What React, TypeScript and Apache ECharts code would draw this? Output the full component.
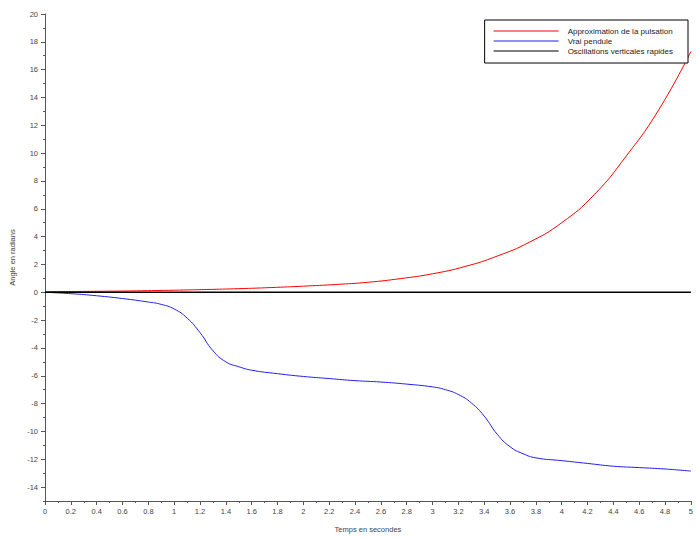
import React, { useEffect, useRef } from "react";
import * as echarts from "echarts";

// Time samples (s) and values
const redTimes = [0, 0.25, 0.5, 0.75, 1, 1.25, 1.5, 1.75, 2, 2.25, 2.5, 2.75, 3, 3.25, 3.5, 3.75, 4, 4.25, 4.5, 4.75, 5];
const redValues = [0.05, 0.06, 0.08, 0.11, 0.15, 0.2, 0.26, 0.34, 0.44, 0.56, 0.72, 0.98, 1.33, 1.85, 2.6, 3.6, 5.0, 7.0, 9.8, 13.1, 17.3];

const blueTimes = [0, 0.2, 0.4, 0.6, 0.8, 0.9, 1.0, 1.1, 1.2, 1.3, 1.4, 1.5, 1.6, 1.8, 2.0, 2.2, 2.4, 2.6, 2.8, 3.0, 3.1, 3.2, 3.3, 3.4, 3.5, 3.6, 3.7, 3.8, 4.0, 4.2, 4.4, 4.6, 4.8, 5.0];
const blueValues = [0, -0.1, -0.25, -0.45, -0.7, -0.87, -1.2, -1.85, -2.9, -4.2, -5.0, -5.35, -5.6, -5.85, -6.05, -6.2, -6.35, -6.45, -6.6, -6.8, -7.0, -7.35, -7.95, -8.9, -10.2, -11.1, -11.6, -11.9, -12.1, -12.3, -12.5, -12.6, -12.7, -12.85];

const blackTimes = [0, 5];
const blackValues = [0, 0];

const seriesNames = [
  "Approximation de la pulsation",
  "Vrai pendule",
  "Oscillations verticales rapides",
];

const yMajorTicks = [-14, -12, -10, -8, -6, -4, -2, 0, 2, 4, 6, 8, 10, 12, 14, 16, 18, 20];
const yMinorTicks = [-15, -13, -11, -9, -7, -5, -3, -1, 1, 3, 5, 7, 9, 11, 13, 15, 17, 19];

const xTitle = "Temps en secondes";
const yTitle = "Angle en radians";

const pairs = (t: number[], v: number[]) => t.map((x, i) => [x, v[i]]);

const FONT = "Liberation Sans";
const AXIS_COLOR = "#555";
const LABEL_COLOR = "#444";

export default function App() {
  const ref = useRef<HTMLDivElement>(null);

  useEffect(() => {
    if (!ref.current) return;
    const chart = echarts.init(ref.current, undefined, { renderer: "svg" });
    chart.setOption({
      animation: false,
      backgroundColor: "#ffffff",
      textStyle: { fontFamily: FONT },
      grid: { left: 43, right: 2, top: 14, bottom: 32, containLabel: false },
      legend: {
        right: 8,
        top: 20,
        orient: "vertical",
        backgroundColor: "#fff",
        borderColor: "#000",
        borderWidth: 1,
        borderRadius: 0,
        padding: [6, 15, 7, 9],
        itemWidth: 65,
        itemHeight: 1,
        itemGap: 0,
        icon: "rect",
        textStyle: { fontSize: 8, color: "#222", fontFamily: FONT, lineHeight: 10, padding: [0, 0, 0, 4] },
        data: seriesNames,
      },
      xAxis: {
        type: "value",
        min: 0,
        max: 5,
        interval: 0.2,
        name: xTitle,
        nameLocation: "middle",
        nameGap: 24,
        nameTextStyle: { fontSize: 7.5, color: LABEL_COLOR, fontFamily: FONT },
        axisLine: { show: true, onZero: false, lineStyle: { color: AXIS_COLOR, width: 1 } },
        axisTick: { show: true, inside: false, length: 4, lineStyle: { color: AXIS_COLOR } },
        minorTick: { show: true, splitNumber: 2, length: 2, lineStyle: { color: AXIS_COLOR } },
        axisLabel: { fontSize: 7.5, color: LABEL_COLOR, margin: 6, fontFamily: FONT, showMaxLabel: true },
        splitLine: { show: false },
        minorSplitLine: { show: false },
      },
      yAxis: [
        {
          type: "value",
          min: -15,
          max: 20,
          position: "left",
          name: yTitle,
          nameLocation: "middle",
          nameGap: 29,
          nameRotate: 90,
          nameTextStyle: { fontSize: 7.5, color: LABEL_COLOR, fontFamily: FONT },
          axisLine: { show: true, onZero: false, lineStyle: { color: AXIS_COLOR, width: 1 } },
          axisTick: { show: true, inside: false, length: 4, customValues: yMajorTicks, lineStyle: { color: AXIS_COLOR } },
          axisLabel: { fontSize: 7.5, color: LABEL_COLOR, margin: 7, fontFamily: FONT, customValues: yMajorTicks },
          splitLine: { show: false },
        },
        {
          type: "value",
          min: -15,
          max: 20,
          position: "left",
          axisLine: { show: false },
          axisTick: { show: true, inside: false, length: 2, customValues: yMinorTicks, lineStyle: { color: AXIS_COLOR } },
          axisLabel: { show: false },
          splitLine: { show: false },
        },
      ],
      series: [
        {
          name: seriesNames[0],
          type: "line",
          data: pairs(redTimes, redValues),
          symbol: "none",
          smooth: 0.5,
          color: "#ff0000",
          lineStyle: { color: "#ff0000", width: 1 },
          z: 3,
        },
        {
          name: seriesNames[1],
          type: "line",
          data: pairs(blueTimes, blueValues),
          symbol: "none",
          smooth: 0.5,
          color: "#2020ee",
          lineStyle: { color: "#2020ee", width: 1 },
          z: 3,
        },
        {
          name: seriesNames[2],
          type: "line",
          data: pairs(blackTimes, blackValues),
          symbol: "none",
          color: "#000000",
          lineStyle: { color: "#000000", width: 1.5 },
          z: 4,
        },
      ],
    });
    return () => chart.dispose();
  }, []);

  return (
    <div
      ref={ref}
      style={{ position: "fixed", left: 0, top: 0, width: 696, height: 538, background: "#fff" }}
    />
  );
}
